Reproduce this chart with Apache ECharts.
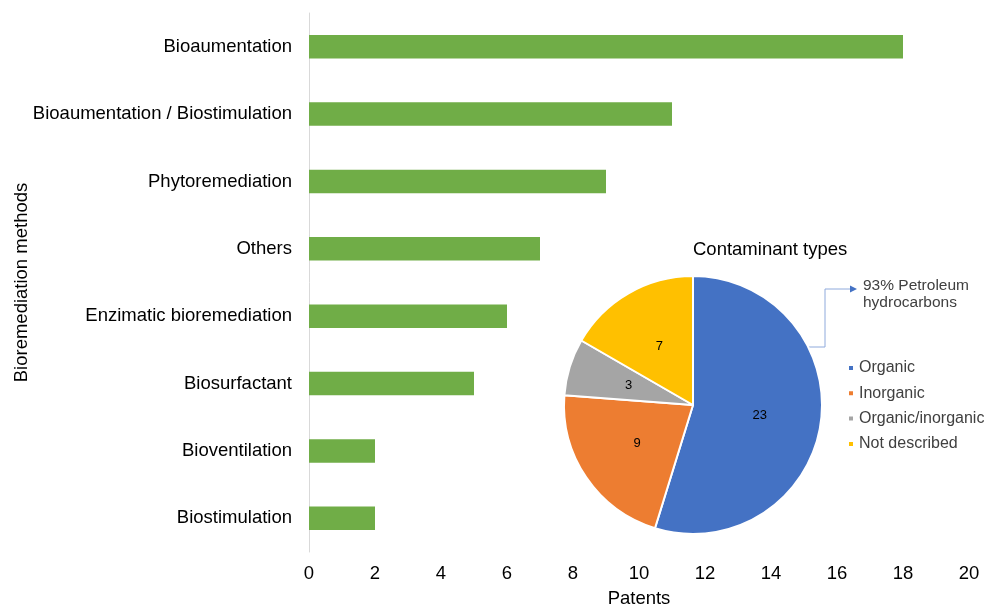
<!DOCTYPE html>
<html>
<head>
<meta charset="utf-8">
<script src="https://cdn.jsdelivr.net/npm/echarts@6/dist/echarts.min.js"></script>
<style>
  html, body { margin: 0; padding: 0; background: #fff; overflow: hidden; }
  #chart { width: 984px; height: 606px; }
</style>
</head>
<body>
<div id="chart"></div>
<script>
// Bioremediation methods (top to bottom) and patent counts
const methods = [
  'Bioaumentation',
  'Bioaumentation / Biostimulation',
  'Phytoremediation',
  'Others',
  'Enzimatic bioremediation',
  'Biosurfactant',
  'Bioventilation',
  'Biostimulation'
];
const patents = [18, 11, 9, 7, 6, 5, 2, 2];

// Contaminant type breakdown
const contaminantTypes = ['Organic', 'Inorganic', 'Organic/inorganic', 'Not described'];
const contaminantCounts = [23, 9, 3, 7];
const contaminantColors = ['#4472c4', '#ed7d31', '#a5a5a5', '#ffc000'];

const FONT = '"Liberation Sans", Arial, sans-serif';
const AXIS_FONT_SIZE = 18.5;

const chart = echarts.init(document.getElementById('chart'), null, { renderer: 'canvas' });

chart.setOption({
  animation: false,
  textStyle: { fontFamily: FONT },
  title: {
    text: 'Contaminant types',
    left: 688,
    top: 235,
    textStyle: { fontFamily: FONT, fontSize: 18.5, fontWeight: 'normal', color: '#000' }
  },
  grid: {
    left: 309,
    right: 15,
    top: 13,
    bottom: 54,
    containLabel: false,
    outerBoundsMode: 'none'
  },
  xAxis: {
    type: 'value',
    min: 0,
    max: 20,
    interval: 2,
    name: 'Patents',
    nameLocation: 'middle',
    nameGap: 37,
    nameMoveOverlap: false,
    nameTextStyle: { fontFamily: FONT, fontSize: AXIS_FONT_SIZE, color: '#000' },
    axisLine: { show: false },
    axisTick: { show: false },
    splitLine: { show: false },
    axisLabel: { fontFamily: FONT, fontSize: AXIS_FONT_SIZE, color: '#000', margin: 12 }
  },
  yAxis: {
    type: 'category',
    inverse: true,
    data: methods,
    name: 'Bioremediation methods',
    nameLocation: 'middle',
    nameRotate: 90,
    nameGap: 278,
    nameMoveOverlap: false,
    nameTextStyle: { fontFamily: FONT, fontSize: AXIS_FONT_SIZE, color: '#000' },
    axisLine: { show: true, lineStyle: { color: '#d9d9d9', width: 1 } },
    axisTick: { show: false },
    axisLabel: { fontFamily: FONT, fontSize: AXIS_FONT_SIZE, color: '#000', margin: 17 }
  },
  legend: {
    orient: 'vertical',
    left: 847,
    top: 359,
    padding: 0,
    itemWidth: 6,
    itemHeight: 6,
    itemGap: 7.3,
    icon: 'rect',
    data: contaminantTypes,
    textStyle: { fontFamily: FONT, fontSize: 16, lineHeight: 18, color: '#404040' }
  },
  series: [
    {
      type: 'bar',
      data: patents,
      barWidth: '35%',
      itemStyle: { color: '#70ad47' },
      silent: true
    },
    {
      type: 'pie',
      center: [693, 405],
      radius: 129,
      startAngle: 90,
      clockwise: true,
      data: contaminantTypes.map((name, i) => ({
        name,
        value: contaminantCounts[i],
        itemStyle: { color: contaminantColors[i] }
      })),
      itemStyle: { borderColor: '#fff', borderWidth: 2 },
      label: {
        show: true,
        position: 'inner',
        formatter: '{c}',
        fontFamily: FONT,
        fontSize: 13,
        color: '#000'
      },
      labelLine: { show: false },
      emphasis: { disabled: true }
    }
  ],
  graphic: [
    {
      type: 'polyline',
      shape: { points: [[808, 347], [825, 347], [825, 289], [851, 289]] },
      style: { stroke: '#8faadc', lineWidth: 1, fill: null }
    },
    {
      type: 'polygon',
      shape: { points: [[850, 285.5], [857, 289], [850, 292.5]] },
      style: { fill: '#4472c4' }
    },
    {
      type: 'text',
      left: 863,
      top: 277,
      style: {
        text: '93% Petroleum\nhydrocarbons',
        font: '15.5px ' + FONT,
        fill: '#404040',
        lineHeight: 17
      }
    }
  ]
});
</script>
</body>
</html>
